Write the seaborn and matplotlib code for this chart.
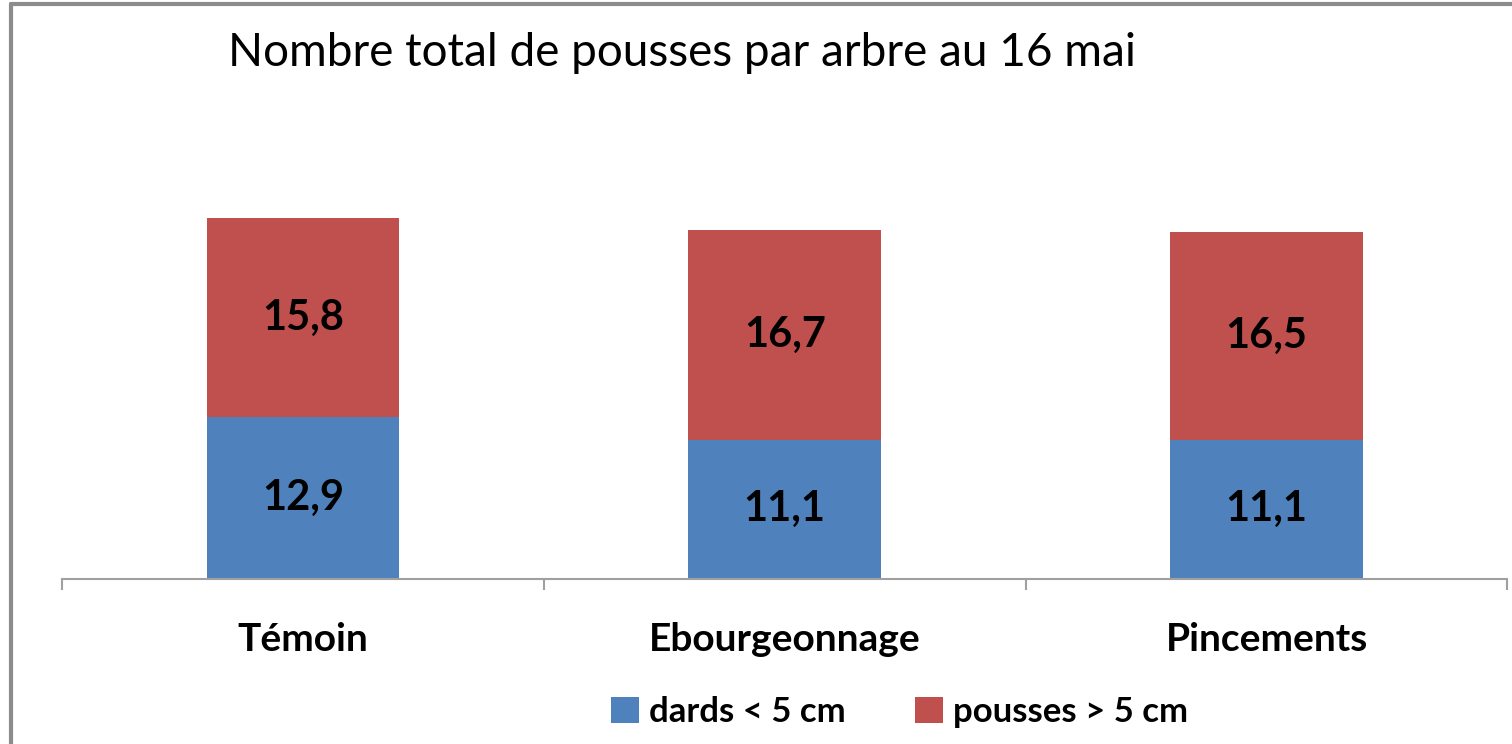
import matplotlib.pyplot as plt
import pandas as pd
import seaborn as sns
from matplotlib.lines import Line2D
from matplotlib.patches import Patch

# données
traitements = ['Témoin', 'Ebourgeonnage', 'Pincements']
dards = [12.9, 11.1, 11.1]
pousses = [15.8, 16.7, 16.5]
series = ['dards < 5 cm', 'pousses > 5 cm']
couleurs = ['#4F81BD', '#C0504D']

df = pd.DataFrame({'traitement': traitements, 'dards': dards, 'pousses': pousses})
df['total'] = df['dards'] + df['pousses']

sns.set_theme(style='white')
plt.rcParams['font.family'] = ['Lato', 'DejaVu Sans']
plt.rcParams['text.color'] = 'black'
plt.rcParams['xtick.color'] = 'black'

fig = plt.figure(figsize=(15.12, 7.44), dpi=100)
ax = fig.add_axes([0.041, 0.2218, 0.956, 0.591])

# barres empilées : total en rouge, puis dards en bleu par-dessus
sns.barplot(data=df, x='traitement', y='total', color=couleurs[1], width=0.4,
            saturation=1, linewidth=0, ax=ax)
sns.barplot(data=df, x='traitement', y='dards', color=couleurs[0], width=0.4,
            saturation=1, linewidth=0, ax=ax)

ax.set_xlim(-0.5, 2.5)
ax.set_ylim(0, 35)
ax.set_xlabel('')
ax.set_ylabel('')
ax.set_yticks([])
for s in ['top', 'right', 'left']:
    ax.spines[s].set_visible(False)
ax.spines['bottom'].set_color('#A0A0A0')
ax.spines['bottom'].set_linewidth(1.5)

ax.tick_params(axis='x', which='major', length=0, pad=31, labelsize=28,
               labelcolor='black')
for lab in ax.get_xticklabels():
    lab.set_fontweight('bold')
ax.set_xticks([-0.5, 0.5, 1.5, 2.5], minor=True)
ax.tick_params(axis='x', which='minor', bottom=True, length=8, width=1.5,
               color='#A0A0A0', direction='out')

# étiquettes de valeurs
for i, row in df.iterrows():
    ax.text(i, row['dards'] / 2, f"{row['dards']:.1f}".replace('.', ','),
            ha='center', va='center', fontsize=30, fontweight='bold')
    ax.text(i, row['dards'] + row['pousses'] / 2,
            f"{row['pousses']:.1f}".replace('.', ','),
            ha='center', va='center', fontsize=30, fontweight='bold')

fig.text(228 / 1512, 1 - 66 / 744, 'Nombre total de pousses par arbre au 16 mai',
         ha='left', va='baseline', fontsize=33)

handles = [Patch(facecolor=c, edgecolor='none') for c in couleurs]
leg = fig.legend(handles, series, loc='center', bbox_to_anchor=(0.595, 0.043),
                 ncol=2, frameon=False, handlelength=0.8, handleheight=0.8,
                 handletextpad=0.3, columnspacing=2.0,
                 prop={'size': 25, 'weight': 'bold'})

# bordure du cadre (haut et gauche)
fig.add_artist(Line2D([0.007, 1.0], [0.994, 0.994], color='#8C8C8C', lw=3,
                      transform=fig.transFigure))
fig.add_artist(Line2D([0.007, 0.007], [0.0, 0.994], color='#8C8C8C', lw=3,
                      transform=fig.transFigure))

fig.savefig('out.png', dpi=100)
